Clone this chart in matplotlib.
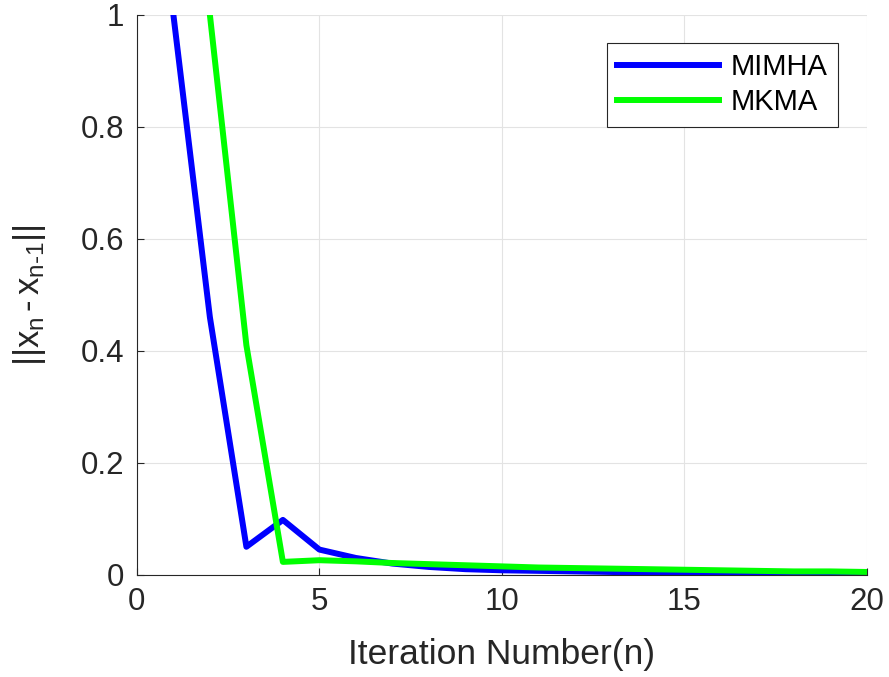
import numpy as np
import matplotlib
matplotlib.use('Agg')
import matplotlib.pyplot as plt

plt.rcParams['font.family'] = ['Liberation Sans', 'DejaVu Sans']
plt.rcParams['mathtext.fontset'] = 'custom'
plt.rcParams['mathtext.rm'] = 'Liberation Sans'
plt.rcParams['mathtext.it'] = 'Liberation Sans'

# iteration numbers and error values
n_mimha = list(range(1, 21))
err_mimha = [1.0, 0.46, 0.05, 0.098, 0.045, 0.03, 0.02, 0.014, 0.01, 0.008,
             0.007, 0.006, 0.005, 0.004, 0.004, 0.003, 0.003, 0.003, 0.002, 0.002]

n_mkma = list(range(2, 21))
err_mkma = [1.0, 0.41, 0.023, 0.026, 0.024, 0.021, 0.019, 0.017, 0.015, 0.013,
            0.012, 0.011, 0.01, 0.009, 0.008, 0.007, 0.006, 0.006, 0.005]

fig = plt.figure(figsize=(8.89, 6.77), dpi=100)
ax = fig.add_axes([0.154, 0.151, 0.821, 0.827])

ax.plot(n_mimha, err_mimha, color='#0000ff', lw=4.3, label='MIMHA')
ax.plot(n_mkma, err_mkma, color='#00ff00', lw=4.3, label='MKMA')

ax.set_xlim(0, 20)
ax.set_ylim(0, 1)
ax.set_xticks([0, 5, 10, 15, 20])
ax.set_yticks([0, 0.2, 0.4, 0.6, 0.8, 1])
ax.set_yticklabels(['0', '0.2', '0.4', '0.6', '0.8', '1'])
ax.grid(True, color='#e3e3e3', lw=0.8)
ax.set_axisbelow(True)
ax.tick_params(direction='in', labelsize=22.5, colors='#262626', length=5, pad=9)
for s in ['top', 'right']:
    ax.spines[s].set_visible(False)
for s in ['left', 'bottom']:
    ax.spines[s].set_color('#262626')

ax.set_xlabel('Iteration Number(n)', fontsize=25.5, color='#262626', va='center')
ax.set_ylabel(r'$||x_n\,$-$\,x_{n\text{-}1}||$', fontsize=25, color='#262626',
              va='center')
ax.xaxis.set_label_coords(0.5, -0.143)
ax.yaxis.set_label_coords(-0.147, 0.5)

leg = ax.legend(loc='upper right', bbox_to_anchor=(0.96, 0.95), borderaxespad=0,
                fontsize=21, fancybox=False, edgecolor='#262626',
                handlelength=3.5, handletextpad=0.4, labelspacing=0.25,
                borderpad=0.35, framealpha=1)
leg.get_frame().set_linewidth(0.8)

fig.savefig('out.png', dpi=100)
